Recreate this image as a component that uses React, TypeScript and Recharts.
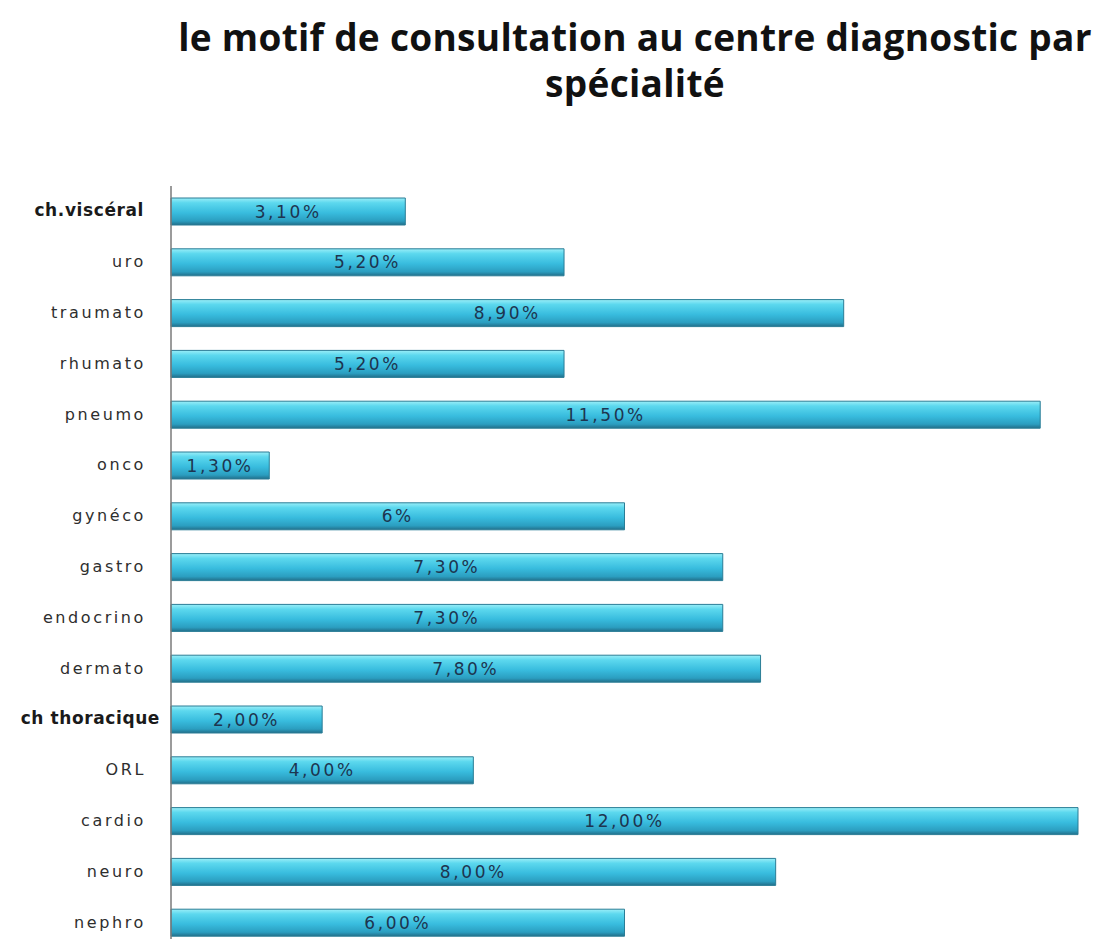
import React from "react";
import { BarChart, Bar, XAxis, YAxis, LabelList } from "recharts";

// top to bottom, as in the picture
const categories = [
  "ch.viscéral",
  "uro",
  "traumato",
  "rhumato",
  "pneumo",
  "onco",
  "gynéco",
  "gastro",
  "endocrino",
  "dermato",
  "ch thoracique",
  "ORL",
  "cardio",
  "neuro",
  "nephro",
];

const values = [3.1, 5.2, 8.9, 5.2, 11.5, 1.3, 6, 7.3, 7.3, 7.8, 2, 4, 12, 8, 6];

const valueLabels = [
  "3,10%",
  "5,20%",
  "8,90%",
  "5,20%",
  "11,50%",
  "1,30%",
  "6%",
  "7,30%",
  "7,30%",
  "7,80%",
  "2,00%",
  "4,00%",
  "12,00%",
  "8,00%",
  "6,00%",
];

const boldCategories = ["ch.viscéral", "ch thoracique"];

const chartData = categories.map((c, i) => ({
  name: c,
  value: values[i],
  label: valueLabels[i],
}));

const CategoryTick = (props: any) => {
  const { y, payload } = props;
  const bold = boldCategories.includes(payload.value);
  return (
    <text
      x={bold ? (payload.value === "ch thoracique" ? 160 : 144) : 146}
      y={y}
      dy={5}
      textAnchor="end"
      fontFamily="DejaVu Sans"
      fontSize={bold ? 17 : 16}
      fontWeight={bold ? 700 : 400}
      letterSpacing={bold ? 0.6 : 2.6}
      fill={bold ? "#1a1a1a" : "#2e2e2e"}
    >
      {payload.value}
    </text>
  );
};

const ValueLabel = (props: any) => {
  const { x, y, width, height, value } = props;
  return (
    <text
      x={x + width / 2}
      y={y + height / 2}
      dy={6}
      textAnchor="middle"
      fontFamily="DejaVu Sans"
      fontSize={17}
      letterSpacing={2.6}
      fill="#1d3550"
    >
      {value}
    </text>
  );
};

const titleStyle: React.CSSProperties = {
  position: "absolute",
  left: 0,
  width: 1270,
  textAlign: "center",
  fontFamily: "'Open Sans', sans-serif",
  fontWeight: 700,
  fontSize: 37,
  lineHeight: "44px",
  letterSpacing: 0.3,
  color: "#111",
  whiteSpace: "nowrap",
};

export default function App() {
  return (
    <div
      style={{
        position: "absolute",
        left: 0,
        top: 0,
        width: 1109,
        height: 939,
        overflow: "hidden",
        background: "#fff",
      }}
    >
      <div style={{ ...titleStyle, top: 15 }}>
        le motif de consultation au centre diagnostic par
      </div>
      <div style={{ ...titleStyle, top: 61 }}>spécialité</div>
      <div style={{ position: "absolute", left: 0, top: 0 }}>
        <BarChart
          width={1109}
          height={960}
          data={chartData}
          layout="vertical"
          margin={{ top: 186, right: 31, bottom: 12, left: 0 }}
        >
          <defs>
            <linearGradient id="barFill" x1="0" y1="0" x2="0" y2="1">
              <stop offset="0%" stopColor="#9aeef8" />
              <stop offset="18%" stopColor="#5cd8ee" />
              <stop offset="55%" stopColor="#38bcde" />
              <stop offset="85%" stopColor="#2b9ec0" />
              <stop offset="100%" stopColor="#226f8a" />
            </linearGradient>
          </defs>
          <XAxis type="number" domain={[0, 12]} hide />
          <YAxis
            type="category"
            dataKey="name"
            width={171}
            axisLine={{ stroke: "#7a7a7a", strokeWidth: 1.5 }}
            tickLine={false}
            tick={<CategoryTick />}
            interval={0}
          />
          <Bar
            dataKey="value"
            barSize={27}
            fill="url(#barFill)"
            stroke="#2a7d96"
            strokeWidth={1}
            isAnimationActive={false}
          >
            <LabelList dataKey="label" content={<ValueLabel />} />
          </Bar>
        </BarChart>
      </div>
    </div>
  );
}
